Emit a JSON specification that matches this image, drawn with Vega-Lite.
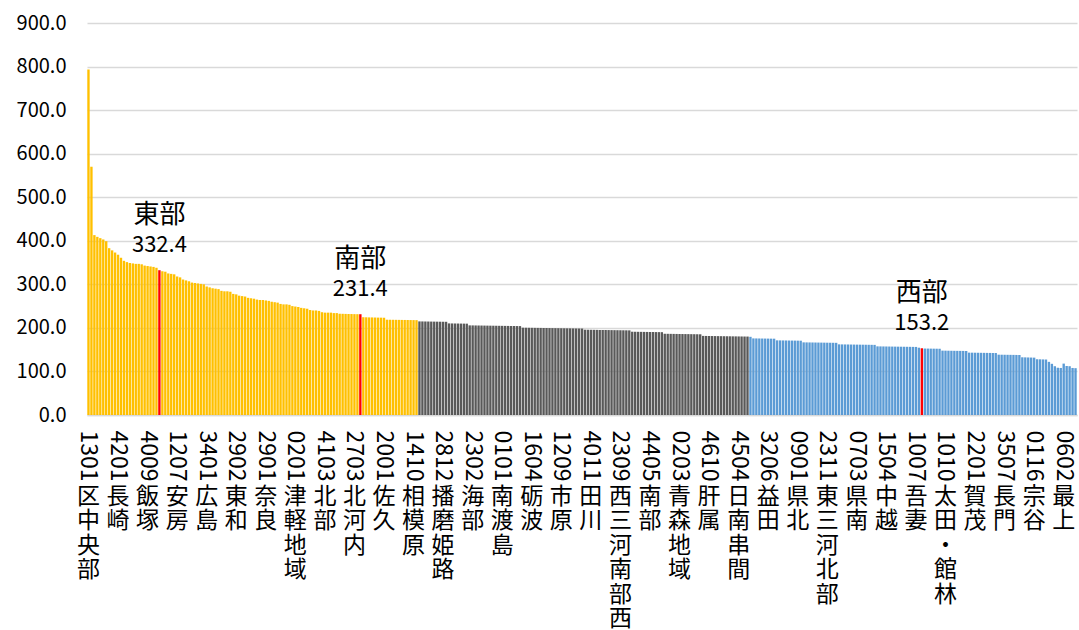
{
  "$schema": "https://vega.github.io/schema/vega-lite/v6.json",
  "autosize": {"type": "none"},
  "width": 990,
  "height": 392,
  "padding": {"left": 87, "top": 23, "right": 2, "bottom": 215},
  "background": "white",
  "config": {"view": {"stroke": null}, "font": "Noto Sans CJK JP"},
  "params": [
    {"name": "lab", "value": {"1": "1301区中央部", "11": "4201長崎", "21": "4009飯塚", "31": "1207安房", "41": "3401広島", "51": "2902東和", "61": "2901奈良", "71": "0201津軽地域", "81": "4103北部", "91": "2703北河内", "101": "2001佐久", "111": "1410相模原", "121": "2812播磨姫路", "131": "2302海部", "141": "0101南渡島", "151": "1604砺波", "161": "1209市原", "171": "4011田川", "181": "2309西三河南部西", "191": "4405南部", "201": "0203青森地域", "211": "4610肝属", "221": "4504日南串間", "231": "3206益田", "241": "0901県北", "251": "2311東三河北部", "261": "0703県南", "271": "1504中越", "281": "1007吾妻", "291": "1010太田・館林", "301": "2201賀茂", "311": "3507長門", "321": "0116宗谷", "331": "0602最上"}}
  ],
  "data": {"values": [
    {"r":1,"v":793,"g":"上位"},{"r":2,"v":570,"g":"上位"},{"r":3,"v":413,"g":"上位"},{"r":4,"v":409,"g":"上位"},{"r":5,"v":406,"g":"上位"},{"r":6,"v":403,"g":"上位"},{"r":7,"v":399,"g":"上位"},{"r":8,"v":383,"g":"上位"},{"r":9,"v":378,"g":"上位"},{"r":10,"v":373,"g":"上位"},
    {"r":11,"v":368,"g":"上位"},{"r":12,"v":361,"g":"上位"},{"r":13,"v":354,"g":"上位"},{"r":14,"v":351,"g":"上位"},{"r":15,"v":349,"g":"上位"},{"r":16,"v":348,"g":"上位"},{"r":17,"v":347,"g":"上位"},{"r":18,"v":347,"g":"上位"},{"r":19,"v":346,"g":"上位"},{"r":20,"v":343,"g":"上位"},
    {"r":21,"v":342,"g":"上位"},{"r":22,"v":341,"g":"上位"},{"r":23,"v":340,"g":"上位"},{"r":24,"v":338,"g":"上位"},{"r":25,"v":332.4,"g":"上位","region":"東部"},{"r":26,"v":330,"g":"上位"},{"r":27,"v":329,"g":"上位"},{"r":28,"v":325,"g":"上位"},{"r":29,"v":324,"g":"上位"},{"r":30,"v":323,"g":"上位"},
    {"r":31,"v":318,"g":"上位"},{"r":32,"v":316,"g":"上位"},{"r":33,"v":311,"g":"上位"},{"r":34,"v":309,"g":"上位"},{"r":35,"v":307,"g":"上位"},{"r":36,"v":304,"g":"上位"},{"r":37,"v":303,"g":"上位"},{"r":38,"v":302,"g":"上位"},{"r":39,"v":301,"g":"上位"},{"r":40,"v":300,"g":"上位"},
    {"r":41,"v":295,"g":"上位"},{"r":42,"v":293,"g":"上位"},{"r":43,"v":291,"g":"上位"},{"r":44,"v":290,"g":"上位"},{"r":45,"v":289,"g":"上位"},{"r":46,"v":285,"g":"上位"},{"r":47,"v":284,"g":"上位"},{"r":48,"v":284,"g":"上位"},{"r":49,"v":283,"g":"上位"},{"r":50,"v":278,"g":"上位"},
    {"r":51,"v":277,"g":"上位"},{"r":52,"v":274,"g":"上位"},{"r":53,"v":273,"g":"上位"},{"r":54,"v":272,"g":"上位"},{"r":55,"v":269,"g":"上位"},{"r":56,"v":268,"g":"上位"},{"r":57,"v":267,"g":"上位"},{"r":58,"v":265,"g":"上位"},{"r":59,"v":264,"g":"上位"},{"r":60,"v":264,"g":"上位"},
    {"r":61,"v":263,"g":"上位"},{"r":62,"v":262,"g":"上位"},{"r":63,"v":260,"g":"上位"},{"r":64,"v":259,"g":"上位"},{"r":65,"v":258,"g":"上位"},{"r":66,"v":255,"g":"上位"},{"r":67,"v":254,"g":"上位"},{"r":68,"v":254,"g":"上位"},{"r":69,"v":253,"g":"上位"},{"r":70,"v":250,"g":"上位"},
    {"r":71,"v":249,"g":"上位"},{"r":72,"v":248,"g":"上位"},{"r":73,"v":246,"g":"上位"},{"r":74,"v":245,"g":"上位"},{"r":75,"v":244,"g":"上位"},{"r":76,"v":241,"g":"上位"},{"r":77,"v":240,"g":"上位"},{"r":78,"v":240,"g":"上位"},{"r":79,"v":239,"g":"上位"},{"r":80,"v":236,"g":"上位"},
    {"r":81,"v":235,"g":"上位"},{"r":82,"v":235,"g":"上位"},{"r":83,"v":235,"g":"上位"},{"r":84,"v":234,"g":"上位"},{"r":85,"v":234,"g":"上位"},{"r":86,"v":232.5,"g":"上位"},{"r":87,"v":232.3,"g":"上位"},{"r":88,"v":232.1,"g":"上位"},{"r":89,"v":231.9,"g":"上位"},{"r":90,"v":231.8,"g":"上位"},
    {"r":91,"v":231.6,"g":"上位"},{"r":92,"v":231.5,"g":"上位"},{"r":93,"v":231.4,"g":"上位","region":"南部"},{"r":94,"v":224.5,"g":"上位"},{"r":95,"v":224.3,"g":"上位"},{"r":96,"v":224.1,"g":"上位"},{"r":97,"v":224,"g":"上位"},{"r":98,"v":223.8,"g":"上位"},{"r":99,"v":223.6,"g":"上位"},{"r":100,"v":223.5,"g":"上位"},
    {"r":101,"v":223.3,"g":"上位"},{"r":102,"v":218.8,"g":"上位"},{"r":103,"v":218.7,"g":"上位"},{"r":104,"v":218.6,"g":"上位"},{"r":105,"v":218.5,"g":"上位"},{"r":106,"v":218.4,"g":"上位"},{"r":107,"v":218.3,"g":"上位"},{"r":108,"v":218.2,"g":"上位"},{"r":109,"v":218.1,"g":"上位"},{"r":110,"v":218,"g":"上位"},
    {"r":111,"v":217.9,"g":"上位"},{"r":112,"v":217.8,"g":"上位"},
    {"r":113,"v":214.9,"g":"中位"},{"r":114,"v":214.8,"g":"中位"},{"r":115,"v":214.7,"g":"中位"},{"r":116,"v":214.6,"g":"中位"},{"r":117,"v":214.5,"g":"中位"},{"r":118,"v":214.4,"g":"中位"},{"r":119,"v":214.3,"g":"中位"},{"r":120,"v":214.2,"g":"中位"},
    {"r":121,"v":214.1,"g":"中位"},{"r":122,"v":214,"g":"中位"},{"r":123,"v":210.3,"g":"中位"},{"r":124,"v":210.2,"g":"中位"},{"r":125,"v":210.1,"g":"中位"},{"r":126,"v":210,"g":"中位"},{"r":127,"v":209.9,"g":"中位"},{"r":128,"v":209.8,"g":"中位"},{"r":129,"v":209.7,"g":"中位"},{"r":130,"v":205.8,"g":"中位"},
    {"r":131,"v":205.7,"g":"中位"},{"r":132,"v":205.6,"g":"中位"},{"r":133,"v":205.5,"g":"中位"},{"r":134,"v":205.4,"g":"中位"},{"r":135,"v":205.3,"g":"中位"},{"r":136,"v":205.2,"g":"中位"},{"r":137,"v":205.1,"g":"中位"},{"r":138,"v":205,"g":"中位"},{"r":139,"v":204.9,"g":"中位"},{"r":140,"v":204.8,"g":"中位"},
    {"r":141,"v":204.7,"g":"中位"},{"r":142,"v":204.6,"g":"中位"},{"r":143,"v":204.5,"g":"中位"},{"r":144,"v":204.4,"g":"中位"},{"r":145,"v":204.3,"g":"中位"},{"r":146,"v":204.2,"g":"中位"},{"r":147,"v":204.1,"g":"中位"},{"r":148,"v":200.5,"g":"中位"},{"r":149,"v":200.4,"g":"中位"},{"r":150,"v":200.3,"g":"中位"},
    {"r":151,"v":200.2,"g":"中位"},{"r":152,"v":200.1,"g":"中位"},{"r":153,"v":200,"g":"中位"},{"r":154,"v":199.9,"g":"中位"},{"r":155,"v":199.8,"g":"中位"},{"r":156,"v":199.7,"g":"中位"},{"r":157,"v":199.6,"g":"中位"},{"r":158,"v":199.5,"g":"中位"},{"r":159,"v":199.4,"g":"中位"},{"r":160,"v":199.3,"g":"中位"},
    {"r":161,"v":199.2,"g":"中位"},{"r":162,"v":199.1,"g":"中位"},{"r":163,"v":199,"g":"中位"},{"r":164,"v":198.9,"g":"中位"},{"r":165,"v":198.8,"g":"中位"},{"r":166,"v":198.7,"g":"中位"},{"r":167,"v":198.6,"g":"中位"},{"r":168,"v":198.5,"g":"中位"},{"r":169,"v":195.8,"g":"中位"},{"r":170,"v":195.7,"g":"中位"},
    {"r":171,"v":195.6,"g":"中位"},{"r":172,"v":195.5,"g":"中位"},{"r":173,"v":195.4,"g":"中位"},{"r":174,"v":195.3,"g":"中位"},{"r":175,"v":195.2,"g":"中位"},{"r":176,"v":195.1,"g":"中位"},{"r":177,"v":195,"g":"中位"},{"r":178,"v":194.9,"g":"中位"},{"r":179,"v":194.8,"g":"中位"},{"r":180,"v":194.7,"g":"中位"},
    {"r":181,"v":194.6,"g":"中位"},{"r":182,"v":194.5,"g":"中位"},{"r":183,"v":194.4,"g":"中位"},{"r":184,"v":194.3,"g":"中位"},{"r":185,"v":191.2,"g":"中位"},{"r":186,"v":191.1,"g":"中位"},{"r":187,"v":191,"g":"中位"},{"r":188,"v":190.9,"g":"中位"},{"r":189,"v":190.8,"g":"中位"},{"r":190,"v":190.7,"g":"中位"},
    {"r":191,"v":190.6,"g":"中位"},{"r":192,"v":190.5,"g":"中位"},{"r":193,"v":190.4,"g":"中位"},{"r":194,"v":190.3,"g":"中位"},{"r":195,"v":190.2,"g":"中位"},{"r":196,"v":186.5,"g":"中位"},{"r":197,"v":186.4,"g":"中位"},{"r":198,"v":186.3,"g":"中位"},{"r":199,"v":186.2,"g":"中位"},{"r":200,"v":186.1,"g":"中位"},
    {"r":201,"v":186,"g":"中位"},{"r":202,"v":185.9,"g":"中位"},{"r":203,"v":185.8,"g":"中位"},{"r":204,"v":185.7,"g":"中位"},{"r":205,"v":185.6,"g":"中位"},{"r":206,"v":185.5,"g":"中位"},{"r":207,"v":185.4,"g":"中位"},{"r":208,"v":185.3,"g":"中位"},{"r":209,"v":181.6,"g":"中位"},{"r":210,"v":181.5,"g":"中位"},
    {"r":211,"v":181.4,"g":"中位"},{"r":212,"v":181.3,"g":"中位"},{"r":213,"v":181.2,"g":"中位"},{"r":214,"v":181.1,"g":"中位"},{"r":215,"v":181,"g":"中位"},{"r":216,"v":180.9,"g":"中位"},{"r":217,"v":180.8,"g":"中位"},{"r":218,"v":180.7,"g":"中位"},{"r":219,"v":180.6,"g":"中位"},{"r":220,"v":180.5,"g":"中位"},
    {"r":221,"v":180.4,"g":"中位"},{"r":222,"v":180.3,"g":"中位"},{"r":223,"v":180.2,"g":"中位"},{"r":224,"v":180.1,"g":"中位"},
    {"r":225,"v":179.5,"g":"下位"},{"r":226,"v":175.9,"g":"下位"},{"r":227,"v":175.8,"g":"下位"},{"r":228,"v":175.7,"g":"下位"},{"r":229,"v":175.6,"g":"下位"},{"r":230,"v":175.5,"g":"下位"},
    {"r":231,"v":175.4,"g":"下位"},{"r":232,"v":175.3,"g":"下位"},{"r":233,"v":175.2,"g":"下位"},{"r":234,"v":171.4,"g":"下位"},{"r":235,"v":171.3,"g":"下位"},{"r":236,"v":171.2,"g":"下位"},{"r":237,"v":171.1,"g":"下位"},{"r":238,"v":171,"g":"下位"},{"r":239,"v":170.9,"g":"下位"},{"r":240,"v":170.8,"g":"下位"},
    {"r":241,"v":170.7,"g":"下位"},{"r":242,"v":170.6,"g":"下位"},{"r":243,"v":166.8,"g":"下位"},{"r":244,"v":166.7,"g":"下位"},{"r":245,"v":166.6,"g":"下位"},{"r":246,"v":166.5,"g":"下位"},{"r":247,"v":166.4,"g":"下位"},{"r":248,"v":166.3,"g":"下位"},{"r":249,"v":166.2,"g":"下位"},{"r":250,"v":166.1,"g":"下位"},
    {"r":251,"v":166,"g":"下位"},{"r":252,"v":165.9,"g":"下位"},{"r":253,"v":165.8,"g":"下位"},{"r":254,"v":165.7,"g":"下位"},{"r":255,"v":162.2,"g":"下位"},{"r":256,"v":162.1,"g":"下位"},{"r":257,"v":162,"g":"下位"},{"r":258,"v":161.9,"g":"下位"},{"r":259,"v":161.8,"g":"下位"},{"r":260,"v":161.7,"g":"下位"},
    {"r":261,"v":161.6,"g":"下位"},{"r":262,"v":161.5,"g":"下位"},{"r":263,"v":161.4,"g":"下位"},{"r":264,"v":161.3,"g":"下位"},{"r":265,"v":161.2,"g":"下位"},{"r":266,"v":161.1,"g":"下位"},{"r":267,"v":161,"g":"下位"},{"r":268,"v":157.6,"g":"下位"},{"r":269,"v":157.5,"g":"下位"},{"r":270,"v":157.4,"g":"下位"},
    {"r":271,"v":157.3,"g":"下位"},{"r":272,"v":157.2,"g":"下位"},{"r":273,"v":157.1,"g":"下位"},{"r":274,"v":157,"g":"下位"},{"r":275,"v":156.9,"g":"下位"},{"r":276,"v":156.8,"g":"下位"},{"r":277,"v":156.7,"g":"下位"},{"r":278,"v":156.6,"g":"下位"},{"r":279,"v":156.5,"g":"下位"},{"r":280,"v":156.4,"g":"下位"},
    {"r":281,"v":156.3,"g":"下位"},{"r":282,"v":154.5,"g":"下位"},{"r":283,"v":153.2,"g":"下位","region":"西部"},{"r":284,"v":152.6,"g":"下位"},{"r":285,"v":152.5,"g":"下位"},{"r":286,"v":152.4,"g":"下位"},{"r":287,"v":152.3,"g":"下位"},{"r":288,"v":152.2,"g":"下位"},{"r":289,"v":152.1,"g":"下位"},{"r":290,"v":147.8,"g":"下位"},
    {"r":291,"v":147.7,"g":"下位"},{"r":292,"v":147.6,"g":"下位"},{"r":293,"v":147.5,"g":"下位"},{"r":294,"v":147.4,"g":"下位"},{"r":295,"v":147.3,"g":"下位"},{"r":296,"v":147.2,"g":"下位"},{"r":297,"v":147.1,"g":"下位"},{"r":298,"v":147,"g":"下位"},{"r":299,"v":143.2,"g":"下位"},{"r":300,"v":143.1,"g":"下位"},
    {"r":301,"v":143,"g":"下位"},{"r":302,"v":142.9,"g":"下位"},{"r":303,"v":142.8,"g":"下位"},{"r":304,"v":142.7,"g":"下位"},{"r":305,"v":142.6,"g":"下位"},{"r":306,"v":142.5,"g":"下位"},{"r":307,"v":142.4,"g":"下位"},{"r":308,"v":142.3,"g":"下位"},{"r":309,"v":138.5,"g":"下位"},{"r":310,"v":138.4,"g":"下位"},
    {"r":311,"v":138.3,"g":"下位"},{"r":312,"v":138.2,"g":"下位"},{"r":313,"v":138.1,"g":"下位"},{"r":314,"v":138,"g":"下位"},{"r":315,"v":137.9,"g":"下位"},{"r":316,"v":137.8,"g":"下位"},{"r":317,"v":132.5,"g":"下位"},{"r":318,"v":132.3,"g":"下位"},{"r":319,"v":132.1,"g":"下位"},{"r":320,"v":131.9,"g":"下位"},
    {"r":321,"v":131.7,"g":"下位"},{"r":322,"v":128,"g":"下位"},{"r":323,"v":127.8,"g":"下位"},{"r":324,"v":127.6,"g":"下位"},{"r":325,"v":127.4,"g":"下位"},{"r":326,"v":122,"g":"下位"},{"r":327,"v":117.5,"g":"下位"},{"r":328,"v":112,"g":"下位"},{"r":329,"v":108.5,"g":"下位"},{"r":330,"v":108,"g":"下位"},
    {"r":331,"v":118,"g":"下位"},{"r":332,"v":112.5,"g":"下位"},{"r":333,"v":112,"g":"下位"},{"r":334,"v":108,"g":"下位"},{"r":335,"v":107.5,"g":"下位"}
  ]},
  "resolve": {"axis": {"x": "independent"}},
  "layer": [
    {
      "mark": {"type": "bar"},
      "encoding": {
        "x": {"field": "r", "type": "ordinal", "title": null,
          "scale": {"paddingInner": 0.2, "paddingOuter": 0.1},
          "axis": {"orient": "bottom", "values": [1,11,21,31,41,51,61,71,81,91,101,111,121,131,141,151,161,171,181,191,201,211,221,231,241,251,261,271,281,291,301,311,321,331],
            "labelExpr": "slice(lab[datum.value] || '', 0, 4)", "labelAngle": 90, "labelAlign": "left", "labelBaseline": "middle",
            "labelFontSize": 23, "labelColor": "#000000", "labelPadding": 15, "labelOverlap": false, "labelBound": false, "labelFlush": false,
            "ticks": false, "domain": true, "domainColor": "#d9d9d9", "domainWidth": 1.5, "grid": false}},
        "y": {"field": "v", "type": "quantitative", "title": null,
          "scale": {"domain": [0, 900], "nice": false},
          "axis": {"values": [0,100,200,300,400,500,600,700,800,900], "format": ".1f", "labelFontSize": 20, "labelColor": "#000000",
            "labelPadding": 21, "ticks": false, "domain": false, "grid": true, "gridColor": "#d9d9d9", "gridWidth": 1.5}},
        "color": {"condition": {"test": "datum.region", "value": "#FF0000"},
          "field": "g", "type": "nominal", "legend": null,
          "scale": {"domain": ["上位", "中位", "下位"], "range": ["#FFC000", "#595959", "#5B9BD5"]}}
      }
    },
    {
      "transform": [{"filter": "datum.region"}],
      "mark": {"type": "text", "fontSize": 26, "color": "#000000", "baseline": "middle", "dy": -55},
      "encoding": {
        "x": {"field": "r", "type": "ordinal", "title": null,
          "axis": {"orient": "bottom", "values": [1,11,21,31,41,51,61,71,81,91,101,111,121,131,141,151,161,171,181,191,201,211,221,231,241,251,261,271,281,291,301,311,321,331],
            "labelExpr": "split(slice(lab[datum.value] || '', 4), '')", "labelAngle": 0, "labelAlign": "center", "labelBaseline": "top",
            "labelFontSize": 23, "labelLineHeight": 24.5, "labelColor": "#000000", "labelPadding": 70, "labelOverlap": false, "labelBound": false, "labelFlush": false,
            "ticks": false, "domain": false, "grid": false}},
        "y": {"field": "v", "type": "quantitative", "title": null},
        "text": {"field": "region"}
      }
    },
    {
      "transform": [{"filter": "datum.region"}],
      "mark": {"type": "text", "fontSize": 22, "color": "#000000", "baseline": "middle", "dy": -25},
      "encoding": {
        "x": {"field": "r", "type": "ordinal", "title": null, "axis": null},
        "y": {"field": "v", "type": "quantitative", "title": null},
        "text": {"field": "v", "format": ".1f"}
      }
    }
  ]
}
